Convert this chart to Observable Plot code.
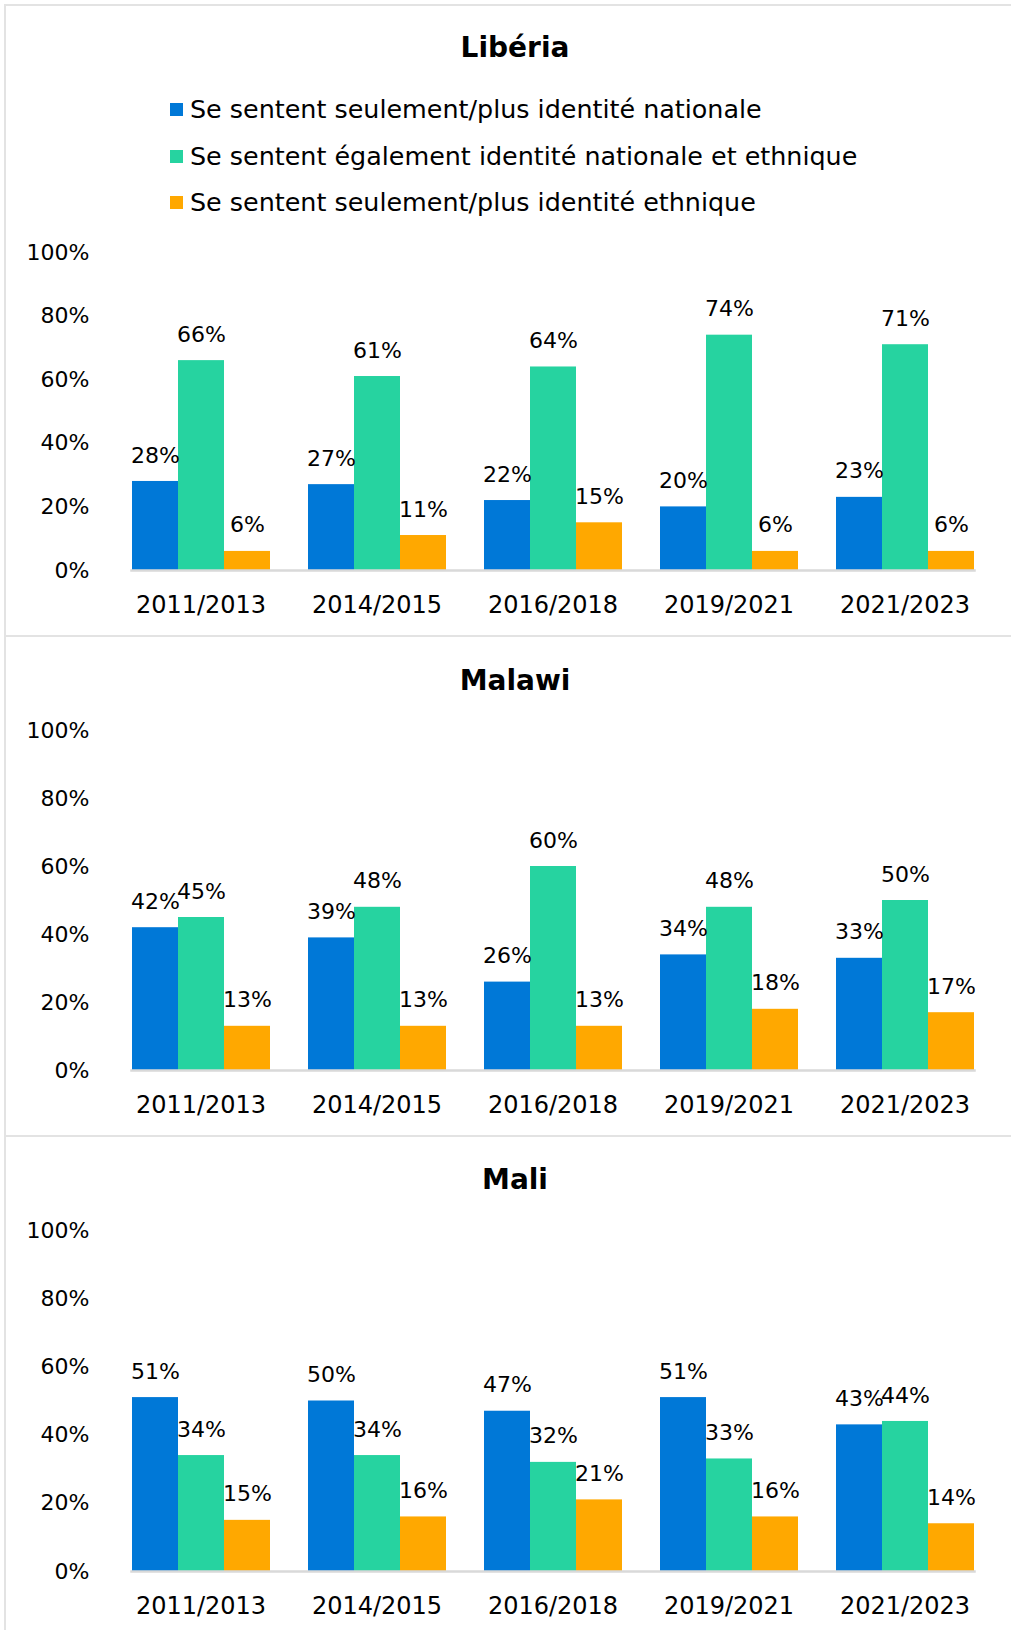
<!DOCTYPE html>
<html>
<head>
<meta charset="utf-8">
<script src="https://cdn.jsdelivr.net/npm/d3@7"></script>
<script src="https://cdn.jsdelivr.net/npm/@observablehq/plot@0.6"></script>
<style>
  html, body { margin: 0; padding: 0; background: #fff; }
  body { width: 1011px; height: 1630px; overflow: hidden; font-family: "DejaVu Sans", sans-serif; color: #000; }
  #page { position: relative; width: 1011px; height: 1630px; overflow: hidden; }
  .panel { position: absolute; left: 4px; width: 1100px; box-sizing: border-box; border-top: 2.5px solid #e3e3e3; border-left: 2px solid #e3e3e3; }
  .title { position: absolute; left: 0; width: 1030px; text-align: center; font-weight: bold; font-size: 28px; line-height: 34px; height: 34px; }
  .legend-row { position: absolute; left: 170px; height: 34px; display: flex; align-items: center; font-size: 25.4px; white-space: nowrap; }
  .legend-row .sw { width: 13px; height: 13px; margin-right: 7px; flex: none; }
  .chart { position: absolute; left: 0; }
</style>
</head>
<body>
<div id="page"></div>
<script>
// ---- data ----
const periods = ["2011/2013", "2014/2015", "2016/2018", "2019/2021", "2021/2023"];
const seriesNames = [
  "Se sentent seulement/plus identité nationale",
  "Se sentent également identité nationale et ethnique",
  "Se sentent seulement/plus identité ethnique"
];
const seriesColors = ["#0078D7", "#26D3A0", "#FFA800"];
const yTicks = [0, 20, 40, 60, 80, 100];

const liberiaNational = [28, 27, 22, 20, 23];
const liberiaBoth = [66, 61, 64, 74, 71];
const liberiaEthnic = [6, 11, 15, 6, 6];

const malawiNational = [42, 39, 26, 34, 33];
const malawiBoth = [45, 48, 60, 48, 50];
const malawiEthnic = [13, 13, 13, 18, 17];

const maliNational = [51, 50, 47, 51, 43];
const maliBoth = [34, 34, 32, 33, 44];
const maliEthnic = [15, 16, 21, 16, 14];

// ---- layout ----
const page = document.getElementById("page");

function add(tag, cls, css, text) {
  const el = document.createElement(tag);
  if (cls) el.className = cls;
  Object.assign(el.style, css || {});
  if (text != null) el.textContent = text;
  page.appendChild(el);
  return el;
}

// panel frames
add("div", "panel", {top: "4px", height: "632px"});
add("div", "panel", {top: "635px", height: "501px"});
add("div", "panel", {top: "1135px", height: "600px"});

function tidy(nat, both, eth) {
  const rows = [];
  const arrs = [nat, both, eth];
  periods.forEach((p, i) => {
    arrs.forEach((a, k) => rows.push({period: p, series: seriesNames[k], value: a[i]}));
  });
  return rows;
}

function chart(rows, plotH) {
  return Plot.plot({
    width: 1011,
    height: 22 + plotH + 50,
    marginTop: 22,
    marginBottom: 50,
    marginLeft: 112,
    marginRight: 18,
    style: {fontFamily: "DejaVu Sans, sans-serif", fontSize: "22px", color: "#000", background: "transparent"},
    fx: {domain: periods, paddingInner: 0.213, paddingOuter: 0.106, label: null},
    x: {domain: seriesNames, padding: 0, axis: null},
    y: {domain: [0, 100], label: null},
    color: {domain: seriesNames, range: seriesColors},
    marks: [
      Plot.barY(rows, {fx: "period", x: "series", y: "value", fill: "series"}),
      Plot.frame({anchor: "bottom", facet: "super", stroke: "#d9d9d9", strokeWidth: 2.5}),
      Plot.text(rows, {fx: "period", x: "series", y: "value", text: d => d.value + "%", dy: -26, fontSize: 22, fill: "#000", lineAnchor: "middle"}),
      Plot.axisY({ticks: yTicks, tickFormat: d => d + "%", tickSize: 0, tickPadding: 25, dx: -17, fontSize: 22, label: null}),
      Plot.axisFx({anchor: "bottom", tickSize: 0, tickPadding: 25, fontSize: 24, label: null})
    ]
  });
}

// Libéria
add("div", "title", {top: "31px"}, "Libéria");
const legendY = [109, 156, 202];
seriesNames.forEach((s, i) => {
  const row = add("div", "legend-row", {top: (legendY[i] - 17) + "px"});
  const sw = document.createElement("span");
  sw.className = "sw";
  sw.style.background = seriesColors[i];
  row.appendChild(sw);
  const t = document.createElement("span");
  t.textContent = s;
  row.appendChild(t);
});
const c1 = chart(tidy(liberiaNational, liberiaBoth, liberiaEthnic), 318);
c1.classList.add("chart"); c1.style.top = "230px"; page.appendChild(c1);

// Malawi
add("div", "title", {top: "664px"}, "Malawi");
const c2 = chart(tidy(malawiNational, malawiBoth, malawiEthnic), 340);
c2.classList.add("chart"); c2.style.top = "708px"; page.appendChild(c2);

// Mali
add("div", "title", {top: "1163px"}, "Mali");
const c3 = chart(tidy(maliNational, maliBoth, maliEthnic), 341);
c3.classList.add("chart"); c3.style.top = "1208px"; page.appendChild(c3);
</script>
</body>
</html>
